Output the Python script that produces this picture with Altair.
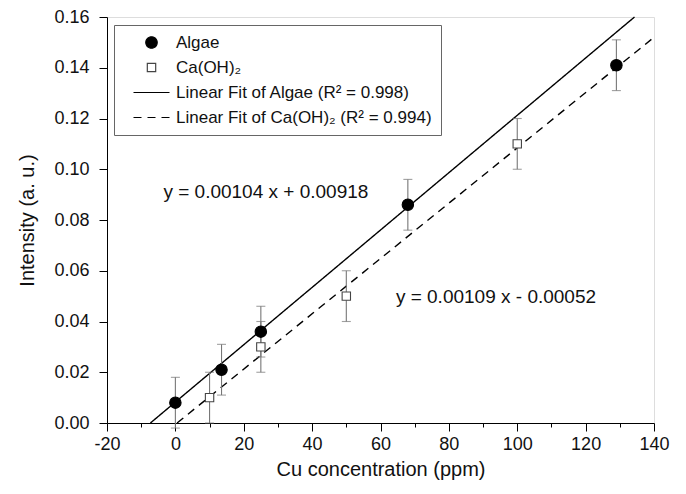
import altair as alt
import pandas as pd

# ---- data ----
series_labels = ["Algae", "Ca(OH)₂",
                 "Linear Fit of Algae (R² = 0.998)",
                 "Linear Fit of Ca(OH)₂ (R² = 0.994)"]

algae_x = [0, 13.5, 25, 68, 129]
algae_y = [0.008, 0.021, 0.036, 0.086, 0.141]
algae_err = [0.010, 0.010, 0.010, 0.010, 0.010]

ca_x = [10, 25, 50, 100]
ca_y = [0.010, 0.030, 0.050, 0.110]
ca_err = [0.010, 0.010, 0.010, 0.010]

fit_algae_x = [-7.3, 134.3]
fit_algae_y = [0.0, 0.160]
fit_ca_x = [0.5, 140]
fit_ca_y = [0.0, 0.152]

x_ticks = [-20, -10, 0, 10, 20, 30, 40, 50, 60, 70, 80, 90, 100, 110, 120, 130, 140]
y_ticks = [0.00, 0.01, 0.02, 0.03, 0.04, 0.05, 0.06, 0.07, 0.08,
           0.09, 0.10, 0.11, 0.12, 0.13, 0.14, 0.15, 0.16]

eq_text = ["y = 0.00104 x + 0.00918", "y = 0.00109 x - 0.00052"]
eq_x = [-3.5, 64.5]
eq_y = [0.091, 0.0497]

# ---- tables ----
pts = pd.DataFrame({
    "x": algae_x + ca_x,
    "y": algae_y + ca_y,
    "lo": [v - e for v, e in zip(algae_y, algae_err)] + [v - e for v, e in zip(ca_y, ca_err)],
    "hi": [v + e for v, e in zip(algae_y, algae_err)] + [v + e for v, e in zip(ca_y, ca_err)],
    "series": [series_labels[0]] * len(algae_x) + [series_labels[1]] * len(ca_x),
})
fits = pd.DataFrame({
    "x": fit_algae_x + fit_ca_x,
    "y": fit_algae_y + fit_ca_y,
    "series": [series_labels[2]] * 2 + [series_labels[3]] * 2,
})
eqs = pd.DataFrame({"x": eq_x, "y": eq_y, "t": eq_text})

FONT = "Liberation Sans"
INK = "#111"
LINE_SYMBOL = "M-3,0L3,0"   # long horizontal stroke for the fit entries in the legend

xscale = alt.Scale(domain=[-20, 140], nice=False, zero=False)
yscale = alt.Scale(domain=[0, 0.16], nice=False, zero=False)

xaxis = alt.Axis(
    values=x_ticks,
    labelExpr="datum.value % 20 === 0 ? '' + datum.value : ''",
    tickSize={"condition": {"test": "datum.value % 20 === 0", "value": 8}, "value": 4},
    title="Cu concentration (ppm)",
    grid=False, labelFontSize=18, titleFontSize=20, labelFont=FONT, titleFont=FONT,
    labelColor=INK, titleColor=INK, titleFontWeight="normal",
    domainColor="black", tickColor="black", labelPadding=4, titlePadding=6,
    labelFlush=False, labelOverlap=False,
)
yaxis = alt.Axis(
    values=y_ticks,
    labelExpr="round(datum.value * 100) % 2 === 0 ? format(datum.value, '.2f') : ''",
    tickSize={"condition": {"test": "round(datum.value * 100) % 2 === 0", "value": 8}, "value": 4},
    title="Intensity (a. u.)",
    grid=False, labelFontSize=18, titleFontSize=20, labelFont=FONT, titleFont=FONT,
    labelColor=INK, titleColor=INK, titleFontWeight="normal",
    domainColor="black", tickColor="black", labelPadding=10, titlePadding=16,
    labelFlush=False, labelOverlap=False,
)

leg = alt.Legend(
    title=None, orient="none", legendX=7, legendY=8,
    fillColor="white", strokeColor="#666", padding=9,
    labelFont=FONT, labelFontSize=17, labelColor=INK, labelLimit=500,
    rowPadding=7, symbolStrokeWidth=1.2, symbolOffset=20, labelOffset=16,
)

X = alt.X("x:Q", scale=xscale, axis=xaxis)
Y = alt.Y("y:Q", scale=yscale, axis=yaxis)

stroke_enc = alt.Stroke("series:N", scale=alt.Scale(domain=series_labels,
                        range=["black", "#444", "black", "black"]), legend=leg)

lines = alt.Chart(fits).mark_line(strokeWidth=1.4).encode(
    x=X, y=Y,
    stroke=stroke_enc,
    strokeDash=alt.StrokeDash("series:N", scale=alt.Scale(
        domain=series_labels, range=[[1, 0], [1, 0], [1, 0], [8, 6]]), legend=leg),
)

err = alt.Chart(pts).mark_rule(color="#777", strokeWidth=1.1).encode(
    x=X, y=alt.Y("lo:Q", scale=yscale), y2="hi:Q")
caps_lo = alt.Chart(pts).mark_tick(color="#777", thickness=1.1, size=9, orient="horizontal").encode(
    x=X, y=alt.Y("lo:Q", scale=yscale))
caps_hi = alt.Chart(pts).mark_tick(color="#777", thickness=1.1, size=9, orient="horizontal").encode(
    x=X, y=alt.Y("hi:Q", scale=yscale))

points = alt.Chart(pts).mark_point(filled=True, opacity=1, strokeWidth=1.1).encode(
    x=X, y=Y,
    shape=alt.Shape("series:N", scale=alt.Scale(domain=series_labels,
                    range=["circle", "square", LINE_SYMBOL, LINE_SYMBOL]), legend=leg),
    fill=alt.Fill("series:N", scale=alt.Scale(domain=series_labels,
                  range=["black", "white", "transparent", "transparent"]), legend=leg),
    stroke=stroke_enc,
    size=alt.Size("series:N", scale=alt.Scale(type="ordinal", domain=series_labels,
                  range=[130, 70, 144, 144]), legend=leg),
)

texts = alt.Chart(eqs).mark_text(align="left", baseline="middle", font=FONT,
                                 fontSize=19, color=INK).encode(
    x=X, y=Y, text="t:N")

chart = alt.layer(lines, err, caps_lo, caps_hi, points, texts).properties(
    width=547, height=406,
    autosize=alt.AutoSizeParams(type="none"),
    padding={"left": 99, "top": 9, "right": 22, "bottom": 62},
).configure_view(stroke="black", strokeWidth=1.2).configure(background="white")

chart.save("out.html", embed_options={"renderer": "svg", "actions": False})
